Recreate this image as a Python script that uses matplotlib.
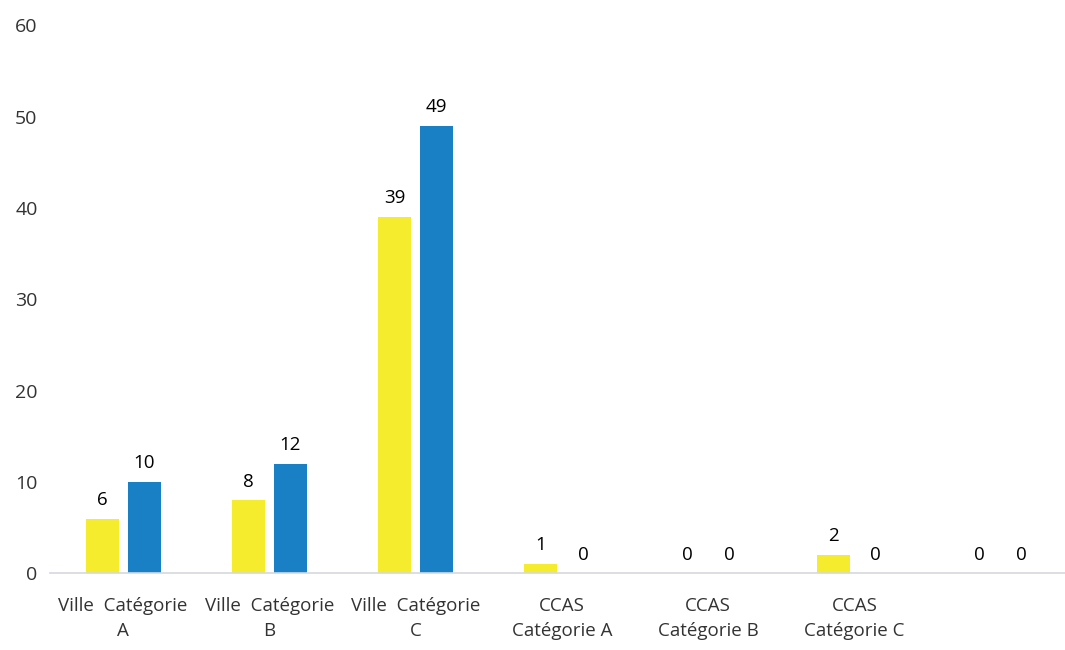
import matplotlib.pyplot as plt
import numpy as np

# Données
categories = ["Ville  Catégorie\nA", "Ville  Catégorie\nB", "Ville  Catégorie\nC",
              "CCAS\nCatégorie A", "CCAS\nCatégorie B", "CCAS\nCatégorie C", ""]
jaune = [6, 8, 39, 1, 0, 2, 0]
bleu = [10, 12, 49, 0, 0, 0, 0]

plt.rcParams['font.family'] = ['Open Sans', 'DejaVu Sans']

fig = plt.figure(figsize=(10.65, 6.5), dpi=100)
ax = fig.add_axes([0.047, 0.118, 0.953, 0.843])

x = np.arange(len(categories))
w = 0.226
b1 = ax.bar(x - 0.144, jaune, w, color='#F4EC2C')
b2 = ax.bar(x + 0.144, bleu, w, color='#1A80C6')

for bars in (b1, b2):
    for r in bars:
        h = r.get_height()
        ax.annotate(str(int(h)), xy=(r.get_x() + r.get_width() / 2, h),
                    xytext=(0, 7), textcoords='offset points',
                    ha='center', va='bottom', fontsize=13.5, color='black')

ax.set_xlim(-0.5, 6.44)
ax.set_ylim(0, 60)
ax.set_yticks(range(0, 61, 10))
ax.set_xticks(x)
ax.set_xticklabels(categories, fontsize=13.5, color='#333333', linespacing=1.5)
ax.tick_params(axis='y', labelsize=14, labelcolor='#333333', length=0, pad=9)
ax.tick_params(axis='x', length=0, pad=17)

for s in ('top', 'right', 'left'):
    ax.spines[s].set_visible(False)
ax.spines['bottom'].set_color('#D5D9DC')
ax.spines['bottom'].set_linewidth(1.2)

fig.savefig('out.png', dpi=100)
